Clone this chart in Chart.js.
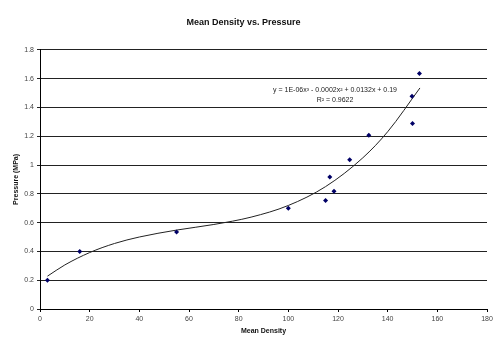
<!DOCTYPE html>
<html>
<head>
<meta charset="utf-8">
<script src="https://cdn.jsdelivr.net/npm/chart.js@4/dist/chart.umd.min.js"></script>
<style>
html,body{margin:0;padding:0;background:#fff;}
#wrap{width:500px;height:342px;position:relative;}
</style>
</head>
<body>
<div id="wrap"><canvas id="c" width="500" height="342"></canvas></div>
<script>
// Observed data
const densityValues = [3, 16, 55, 100, 115, 116.7, 118.4, 124.7, 132.4, 150, 149.8, 152.8];
const pressureValues = [0.20, 0.40, 0.535, 0.70, 0.753, 0.916, 0.817, 1.037, 1.207, 1.288, 1.477, 1.636];

// Trendline
const trendX = [3, 10, 20, 30, 40, 55, 70, 85, 100, 115, 130, 140, 153];
const trendY = [0.228, 0.306, 0.392, 0.455, 0.50, 0.548, 0.587, 0.638, 0.719, 0.85, 1.05, 1.231, 1.535];

// Tick labels
const xTickLabels = ['0','20','40','60','80','100','120','140','160','180'];
const yTickLabels = ['0','0.2','0.4','0.6','0.8','1','1.2','1.4','1.6','1.8'];

const chartTitle = 'Mean Density vs. Pressure';
const xTitle = 'Mean Density';
const yTitle = 'Pressure (MPa)';
const equationLines = ['y = 1E-06x\u00B3 - 0.0002x\u00B2 + 0.0132x + 0.19', 'R\u00B2 = 0.9622'];
const equationAnchor = {x: 118.8, y: [1.523, 1.454]};

const FONT = "'Liberation Sans', Arial, sans-serif";

const eqPlugin = {
  id: 'eqPlugin',
  afterDatasetsDraw(chart) {
    const ctx = chart.ctx;
    const xs = chart.scales.x, ys = chart.scales.y;
    ctx.save();
    ctx.font = '7px ' + FONT;
    ctx.fillStyle = '#222';
    ctx.textAlign = 'center';
    ctx.textBaseline = 'middle';
    equationLines.forEach((t, i) => {
      ctx.fillText(t, xs.getPixelForValue(equationAnchor.x), ys.getPixelForValue(equationAnchor.y[i]));
    });
    ctx.restore();
  }
};

new Chart(document.getElementById('c'), {
  type: 'scatter',
  data: {
    datasets: [
      {
        label: 'Data',
        data: densityValues.map((x, i) => ({x: x, y: pressureValues[i]})),
        pointStyle: 'rectRot',
        pointRadius: 2.5,
        backgroundColor: '#000066',
        borderColor: '#000066',
        borderWidth: 0,
        order: 1
      },
      {
        label: 'Trend',
        type: 'line',
        data: trendX.map((x, i) => ({x: x, y: trendY[i]})),
        borderColor: '#222',
        borderWidth: 1,
        pointRadius: 0,
        fill: false,
        cubicInterpolationMode: 'monotone',
        order: 2
      }
    ]
  },
  options: {
    responsive: false,
    animation: false,
    devicePixelRatio: 1,
    layout: {padding: {left: 0, right: 13, top: 0, bottom: 0}},
    plugins: {
      legend: {display: false},
      tooltip: {enabled: false},
      title: {
        display: true,
        text: chartTitle,
        color: '#111',
        font: {family: FONT, size: 9, weight: 'bold'},
        padding: {top: 17, bottom: 22}
      }
    },
    scales: {
      x: {
        type: 'linear',
        min: 0, max: 180,
        ticks: {
          stepSize: 20,
          color: '#444',
          font: {family: FONT, size: 7},
          padding: 3,
          maxRotation: 0,
          callback: (v) => xTickLabels[Math.round(v / 20)]
        },
        grid: {display: true, drawOnChartArea: false, drawTicks: true, tickLength: 3, color: '#000'},
        border: {display: true, color: '#000', width: 1},
        title: {display: true, text: xTitle, color: '#111', font: {family: FONT, size: 7, weight: 'bold'}, padding: {top: 0, bottom: 7}},
        afterFit: (s) => { s.height = 33; }
      },
      y: {
        type: 'linear',
        min: 0, max: 1.8,
        ticks: {
          stepSize: 0.2,
          color: '#444',
          font: {family: FONT, size: 7},
          padding: 3,
          callback: (v) => yTickLabels[Math.round(v / 0.2)]
        },
        grid: {display: true, drawOnChartArea: true, drawTicks: true, tickLength: 3, color: '#222', lineWidth: 1},
        border: {display: true, color: '#000', width: 1},
        title: {display: true, text: yTitle, color: '#111', font: {family: FONT, size: 7, weight: 'bold'}, padding: {top: 12, bottom: 0}},
        afterFit: (s) => { s.width = 40; }
      }
    }
  },
  plugins: [eqPlugin]
});
</script>
</body>
</html>
